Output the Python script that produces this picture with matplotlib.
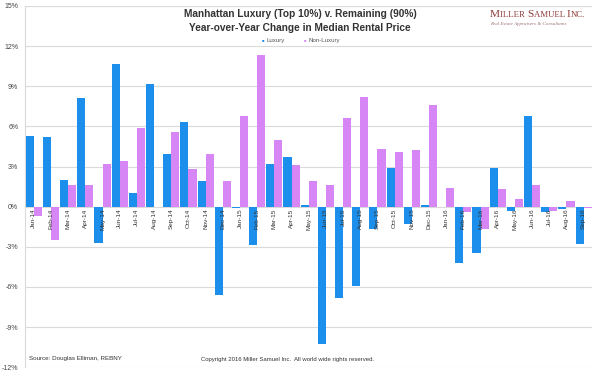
import matplotlib.pyplot as plt
import numpy as np

plt.rcParams['font.family'] = ['Liberation Sans', 'DejaVu Sans']

months = ['Jan-14', 'Feb-14', 'Mar-14', 'Apr-14', 'May-14', 'Jun-14', 'Jul-14', 'Aug-14',
          'Sep-14', 'Oct-14', 'Nov-14', 'Dec-14', 'Jan-15', 'Feb-15', 'Mar-15', 'Apr-15',
          'May-15', 'Jun-15', 'Jul-15', 'Aug-15', 'Sep-15', 'Oct-15', 'Nov-15', 'Dec-15',
          'Jan-16', 'Feb-16', 'Mar-16', 'Apr-16', 'May-16', 'Jun-16', 'Jul-16', 'Aug-16', 'Sep-16']

luxury = [5.3, 5.2, 2.0, 8.1, -2.7, 10.7, 1.0, 9.2,
          3.9, 6.3, 1.9, -6.6, -0.1, -2.9, 3.2, 3.7,
          0.1, -10.3, -6.8, -5.9, -1.7, 2.9, -1.3, 0.1,
          0.0, -4.2, -3.5, 2.9, -0.3, 6.8, -0.4, -0.2, -2.8]

non_luxury = [-0.7, -2.5, 1.6, 1.6, 3.2, 3.4, 5.9, 0.0,
              5.6, 2.8, 3.9, 1.9, 6.8, 11.3, 5.0, 3.1,
              1.9, 1.6, 6.6, 8.2, 4.3, 4.1, 4.2, 7.6,
              1.4, -0.4, -1.7, 1.3, 0.6, 1.6, -0.3, 0.4, -0.1]

yticks = [-12, -9, -6, -3, 0, 3, 6, 9, 12, 15]

blue = '#1C8FEC'
pink = '#D686F5'
grid_c = '#DADADA'
logo_c = '#8E3B3B'

fig = plt.figure(figsize=(6, 3.75), dpi=100)
ax = fig.add_axes([0.042, 0.021, 0.945, 0.963])

x = np.arange(len(months))
w = 0.47
ax.bar(x - w / 2, luxury, width=w, color=blue, label='Luxury', zorder=3)
ax.bar(x + w / 2, non_luxury, width=w, color=pink, label='Non-Luxury', zorder=3)

ax.set_xlim(-0.5, len(months) - 0.5)
ax.set_ylim(-12, 15)
ax.set_yticks(yticks)
ax.set_yticklabels([f'{t}%' for t in yticks], fontsize=5, color='#444444')
ax.tick_params(axis='y', length=0, pad=5)
ax.set_xticks([])
for t in yticks:
    ax.axhline(t, color=grid_c, lw=0.8, zorder=1)

for s in ['top', 'right', 'bottom']:
    ax.spines[s].set_visible(False)
ax.spines['left'].set_color(grid_c)
ax.spines['left'].set_linewidth(0.8)

# etiquetas de meses pegadas al cero
for i, m in enumerate(months):
    ax.text(i, -0.15, m, rotation=90, ha='center', va='top', fontsize=4.6,
            color='#333333', zorder=4)

# titulo y leyenda
fig.text(0.50, 0.962, 'Manhattan Luxury (Top 10%) v. Remaining (90%)', ha='center', va='center',
         fontsize=7.3, fontweight='bold', color='#333333')
fig.text(0.50, 0.926, 'Year-over-Year Change in Median Rental Price', ha='center', va='center',
         fontsize=7.3, fontweight='bold', color='#333333')
fig.text(0.438, 0.893, '■', ha='center', va='center', fontsize=3, color=blue)
fig.text(0.444, 0.893, 'Luxury', ha='left', va='center', fontsize=4.4, color='#555555')
fig.text(0.508, 0.893, '■', ha='center', va='center', fontsize=3, color=pink)
fig.text(0.514, 0.893, 'Non-Luxury', ha='left', va='center', fontsize=4.4, color='#555555')

# logo en versalitas: se va midiendo cada trozo para colocar el siguiente
renderer = fig.canvas.get_renderer()
xpos = 0.817
pieces = [('M', 8.2), ('ILLER ', 6.3), ('S', 8.2), ('AMUEL ', 6.3), ('I', 8.2), ('NC.', 6.3)]
for txt, size in pieces:
    t = fig.text(xpos, 0.955, txt, ha='left', va='baseline', fontsize=size, color=logo_c,
                 family='Liberation Serif')
    bb = t.get_window_extent(renderer=renderer)
    xpos += bb.width / fig.bbox.width
fig.text(0.817, 0.935, 'Real Estate Appraisers & Consultants', ha='left', va='center',
         fontsize=3.6, color='#9A7070', family='Liberation Serif', style='italic')

# pie de grafico
fig.text(0.048, 0.043, 'Source: Douglas Elliman, REBNY', ha='left', va='center',
         fontsize=4.5, color='#333333')
fig.text(0.335, 0.040, 'Copyright 2016 Miller Samuel Inc.  All world wide rights reserved.',
         ha='left', va='center', fontsize=4.3, color='#333333')

fig.savefig('out.png', dpi=100, facecolor='white')
